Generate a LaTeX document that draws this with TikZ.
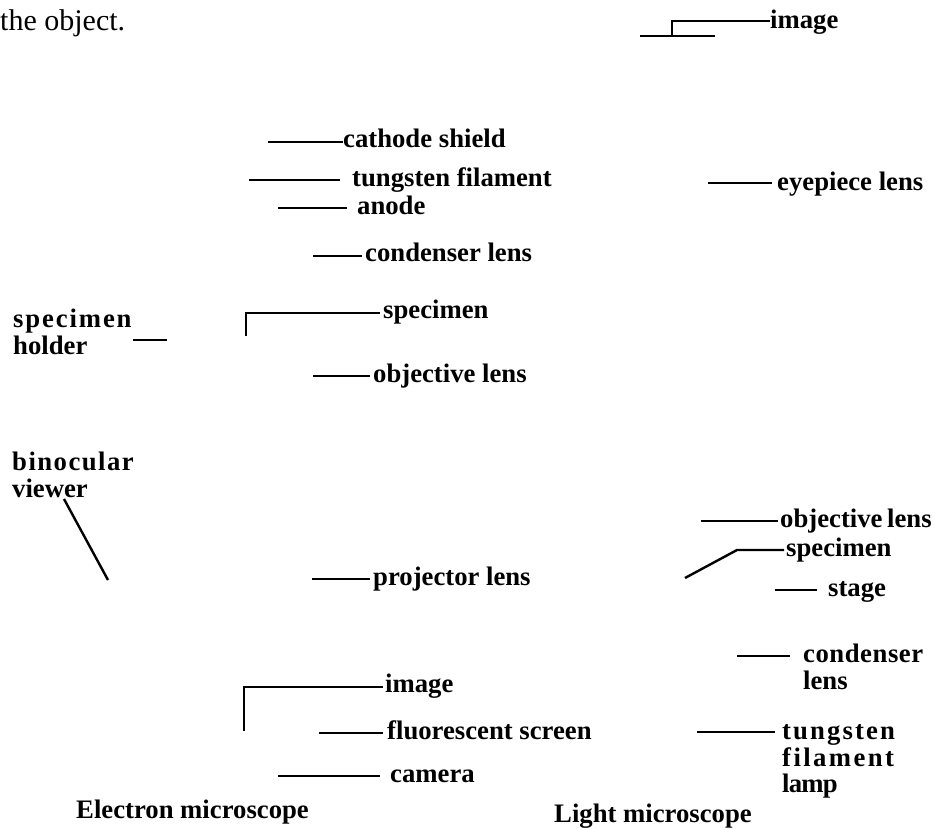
\documentclass[tikz,border=0pt]{standalone}
\usepackage{fontspec}
\setmainfont{Liberation Serif}
\newfontfamily\spacedA[LetterSpace=7]{Liberation Serif}
\newfontfamily\spacedB[LetterSpace=5.5]{Liberation Serif}
\newfontfamily\spacedC[LetterSpace=2]{Liberation Serif}
\newfontfamily\spacedD[LetterSpace=8]{Liberation Serif}
\newfontfamily\spacedE[LetterSpace=9]{Liberation Serif}
\newfontfamily\tightA[LetterSpace=-3]{Liberation Serif}
\usetikzlibrary{calc}
\begin{document}
\begin{tikzpicture}[x=1pt,y=-1pt,
  lbl/.style={anchor=base west,inner sep=0pt,font=\bfseries\fontsize{26.7}{26}\selectfont},
  mlbl/.style={anchor=north west,inner sep=0pt,align=left,font=\bfseries\fontsize{26.7}{26}\selectfont},
  body/.style={anchor=base west,inner sep=0pt,font=\fontsize{30}{30}\selectfont},
  ln/.style={line width=2.4pt}]
\useasboundingbox (0,0) rectangle (935,830);

% running text
\node[body] (objtxt) at (0,30) {the object.};

% top right: image
\node[lbl] (imgT) at (770,28) {image};
\coordinate (tb1) at (640,36);
\coordinate (tb2) at (715,36);
\coordinate (tj) at (672,36);
\coordinate (tk) at (672,21);
\draw[ln] (tb1) -- (tb2);
\draw[ln] (tj) -- (tk) -- (tk -| imgT.west);

% electron microscope labels
\node[lbl] (cs) at (343,147) {cathode shield};
\coordinate (cs0) at (268,142);
\draw[ln] (cs0) -- (cs0 -| cs.west);

\node[lbl] (tf) at (352,186) {tungsten filament};
\coordinate (tf0) at (249,180);
\draw[ln,shorten >=12pt] (tf0) -- (tf0 -| tf.west);

\node[lbl] (an) at (357,214) {anode};
\coordinate (an0) at (278,208);
\draw[ln,shorten >=10pt] (an0) -- (an0 -| an.west);

\node[lbl] (cl) at (365,261) {condenser lens};
\coordinate (cl0) at (313,256);
\draw[ln,shorten >=3pt] (cl0) -- (cl0 -| cl.west);

\node[mlbl] (sh) at (13,308.8) {\strut{\spacedA specimen}\\holder};
\coordinate (sh0) at (133,340);
\coordinate (sh1) at (167,340);
\draw[ln] (sh0) -- (sh1);

\node[lbl] (sp) at (383,318) {specimen};
\coordinate (sp0) at (246,336);
\coordinate (sp1) at (246,313);
\draw[ln,shorten >=3pt] (sp0) -- (sp1) -- (sp1 -| sp.west);

\node[lbl] (ol) at (373,382) {objective lens};
\coordinate (ol0) at (313,376);
\draw[ln,shorten >=3pt] (ol0) -- (ol0 -| ol.west);

\node[mlbl] (bv) at (12,451.8) {\strut{\spacedB binocular}\\viewer};
\coordinate (bv0) at (64,499);
\coordinate (bv1) at (108,580);
\draw[ln] (bv0) -- (bv1);

\node[lbl] (pl) at (373,585) {projector lens};
\coordinate (pl0) at (312,579);
\draw[ln,shorten >=3pt] (pl0) -- (pl0 -| pl.west);

\node[lbl] (im) at (385,692) {image};
\coordinate (im0) at (244,731);
\coordinate (im1) at (244,687);
\draw[ln,shorten >=2pt] (im0) -- (im1) -- (im1 -| im.west);

\node[lbl] (fs) at (387,739) {fluorescent screen};
\coordinate (fs0) at (319,733);
\draw[ln,shorten >=4pt] (fs0) -- (fs0 -| fs.west);

\node[lbl] (ca) at (390,782) {camera};
\coordinate (ca0) at (278,776);
\draw[ln,shorten >=10pt] (ca0) -- (ca0 -| ca.west);

\node[lbl] (em) at (76,818) {Electron microscope};

% light microscope labels
\node[lbl] (ep) at (777,190) {eyepiece lens};
\coordinate (ep0) at (708,183);
\draw[ln,shorten >=5pt] (ep0) -- (ep0 -| ep.west);

\node[lbl] (olr) at (780,527) {objective\hspace{-2pt} lens};
\coordinate (olr0) at (701,521);
\draw[ln,shorten >=2pt] (olr0) -- (olr0 -| olr.west);

\node[lbl] (spr) at (786,556) {specimen};
\coordinate (spr0) at (685,578);
\coordinate (spr1) at (737,550);
\draw[ln,shorten >=2pt] (spr0) -- (spr1) -- (spr1 -| spr.west);

\node[lbl] (st) at (828,596) {stage};
\coordinate (st0) at (775,590);
\draw[ln,shorten >=11pt] (st0) -- (st0 -| st.west);

\node[mlbl] (clr) at (803,643.8) {\strut{\spacedC condenser}\\lens};
\coordinate (clr0) at (737,656);
\draw[ln,shorten >=13pt] (clr0) -- (clr0 -| clr.west);

\node[mlbl] (tfl) at (782,720.8) {\strut{\spacedD tungsten}\\{\spacedE filament}\\{\tightA lamp}};
\coordinate (tfl0) at (697,732);
\draw[ln,shorten >=7pt] (tfl0) -- (tfl0 -| tfl.west);

\node[lbl] (lm) at (554,822) {Light microscope};
\end{tikzpicture}
\end{document}
